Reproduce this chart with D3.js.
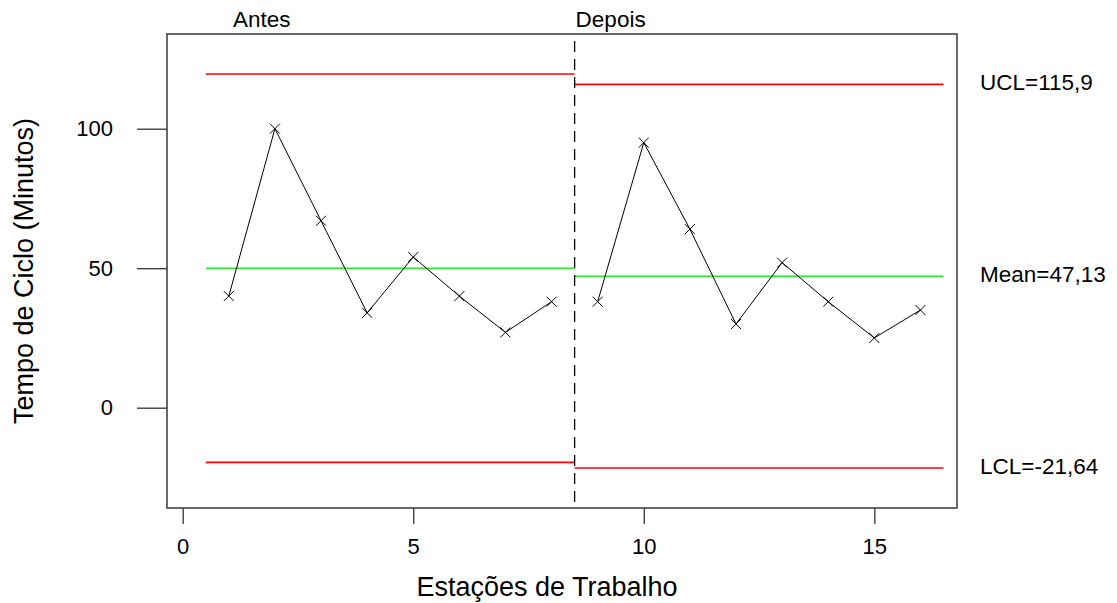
<!DOCTYPE html>
<html>
<head>
<meta charset="utf-8">
<script src="https://cdn.jsdelivr.net/npm/d3@7"></script>
<style>
  body { margin: 0; background: #fff; }
  text { font-family: "Liberation Sans", Arial, sans-serif; fill: #000; }
</style>
</head>
<body>
<div id="chart"></div>
<script>
// data
const fases = ["Antes", "Depois"];
const estacoesAntes = [1, 2, 3, 4, 5, 6, 7, 8];
const valoresAntes = [40, 100, 67, 34, 54, 40, 27, 38];
const estacoesDepois = [9, 10, 11, 12, 13, 14, 15, 16];
const valoresDepois = [38, 95, 64, 30, 52, 38, 25, 35];
const faseInicio = [0.5, 8.5];
const faseFim = [8.5, 16.5];
const ucl = [119.6, 115.9];
const media = [50, 47.13];
const lcl = [-19.6, -21.64];
const xTicks = [0, 5, 10, 15];
const yTicks = [0, 50, 100];

const width = 1117, height = 603;
const box = { left: 167, right: 957, top: 34, bottom: 508 };

const svg = d3.select("#chart")
    .append("svg")
    .attr("width", width)
    .attr("height", height);

const x = d3.scaleLinear().domain([-0.3405, 16.793]).range([box.left, box.right]);
const y = d3.scaleLinear().domain([-35.95, 133.94]).range([box.bottom, box.top]);

// axes
const yAxis = svg.append("g")
    .attr("transform", `translate(${box.left},0)`)
    .call(d3.axisLeft(y).tickValues(yTicks).tickSize(30).tickPadding(24));
const xAxis = svg.append("g")
    .attr("transform", `translate(0,${box.bottom})`)
    .call(d3.axisBottom(x).tickValues(xTicks).tickSize(16).tickPadding(14));
[yAxis, xAxis].forEach(g => {
    g.select(".domain").remove();
    g.selectAll("line").attr("stroke", "#333").attr("stroke-width", 1.3);
    g.selectAll("text")
        .style("font-size", "22px")
        .style("font-family", "'Liberation Sans', Arial, sans-serif")
        .attr("fill", "#000");
});

// plot box
svg.append("rect")
    .attr("x", box.left)
    .attr("y", box.top)
    .attr("width", box.right - box.left)
    .attr("height", box.bottom - box.top)
    .attr("fill", "none")
    .attr("stroke", "#444")
    .attr("stroke-width", 1.6);

// control limits per phase
const limites = [
    { vals: ucl, color: "#ff0000" },
    { vals: media, color: "#22ee22" },
    { vals: lcl, color: "#ff0000" }
];
limites.forEach(l => {
    svg.selectAll(null)
        .data(fases)
        .enter()
        .append("line")
        .attr("x1", (d, i) => x(faseInicio[i]))
        .attr("x2", (d, i) => x(faseFim[i]))
        .attr("y1", (d, i) => y(l.vals[i]))
        .attr("y2", (d, i) => y(l.vals[i]))
        .attr("stroke", l.color)
        .attr("stroke-width", 1.6);
});

// phase separator
svg.append("line")
    .attr("x1", x(faseFim[0]))
    .attr("x2", x(faseFim[0]))
    .attr("y1", box.top)
    .attr("y2", box.bottom)
    .attr("stroke", "#000")
    .attr("stroke-width", 1.3)
    .attr("stroke-dasharray", "11,7")
    .attr("stroke-dashoffset", 11);

// series (one polyline per phase)
const line = d3.line().x(d => x(d[0])).y(d => y(d[1]));
const series = [
    d3.zip(estacoesAntes, valoresAntes),
    d3.zip(estacoesDepois, valoresDepois)
];
series.forEach(pts => {
    svg.append("path")
        .attr("d", line(pts))
        .attr("fill", "none")
        .attr("stroke", "#000")
        .attr("stroke-width", 1);

    const cross = svg.selectAll(null)
        .data(pts)
        .enter()
        .append("g")
        .attr("transform", d => `translate(${x(d[0])},${y(d[1])})`);
    cross.append("line").attr("x1", -5).attr("y1", -5).attr("x2", 5).attr("y2", 5);
    cross.append("line").attr("x1", -5).attr("y1", 5).attr("x2", 5).attr("y2", -5);
    cross.selectAll("line").attr("stroke", "#000").attr("stroke-width", 1);
});

// phase titles
svg.selectAll(".fase")
    .data(fases)
    .enter()
    .append("text")
    .attr("class", "fase")
    .attr("x", (d, i) => i === 0 ? x(1.09) : x(faseInicio[i]) + 1)
    .attr("y", 27)
    .style("font-size", "22.5px")
    .text(d => d);

// limit labels on the right
const fmt = v => String(v).replace(".", ",");
const rotulos = [
    ["UCL", ucl[1]],
    ["Mean", media[1]],
    ["LCL", lcl[1]]
];
svg.selectAll(".rotulo")
    .data(rotulos)
    .enter()
    .append("text")
    .attr("class", "rotulo")
    .attr("x", 980)
    .attr("y", d => y(d[1]) + 6)
    .style("font-size", "22.5px")
    .text(d => `${d[0]}=${fmt(d[1])}`);

// axis titles
svg.append("text")
    .attr("x", 547)
    .attr("y", 596)
    .attr("text-anchor", "middle")
    .style("font-size", "27px")
    .text("Estações de Trabalho");

svg.append("text")
    .attr("transform", `translate(33,${(box.top + box.bottom) / 2}) rotate(-90)`)
    .attr("text-anchor", "middle")
    .style("font-size", "27px")
    .text("Tempo de Ciclo (Minutos)");
</script>
</body>
</html>
